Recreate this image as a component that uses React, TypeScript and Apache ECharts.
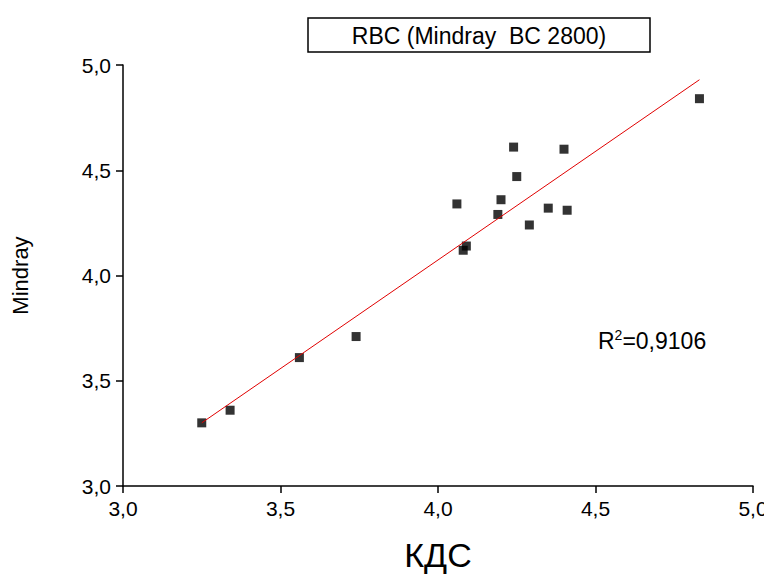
import React, { useRef, useEffect } from 'react';
import * as echarts from 'echarts';

const kdsValues = [3.25, 3.34, 3.56, 3.74, 4.06, 4.08, 4.09, 4.19, 4.2, 4.24, 4.25, 4.29, 4.35, 4.4, 4.41, 4.83];
const mindrayValues = [3.3, 3.36, 3.61, 3.71, 4.34, 4.12, 4.14, 4.29, 4.36, 4.61, 4.47, 4.24, 4.32, 4.6, 4.31, 4.84];
const fitX = [3.25, 4.83];
const fitY = [3.3, 4.93];
const titleText = 'RBC (Mindray  BC 2800)';

const font = 'Liberation Sans, Arial, sans-serif';
const fmt = (v: number) => v.toFixed(1).replace('.', ',');

const App: React.FC = () => {
  const chartRef = useRef<HTMLDivElement>(null);

  useEffect(() => {
    if (!chartRef.current) return;
    const chart = echarts.init(chartRef.current, undefined, { renderer: 'svg' });
    const axisCommon = {
      type: 'value' as const,
      min: 3,
      max: 5,
      interval: 0.5,
      splitLine: { show: false },
      axisLine: { show: true, onZero: false, lineStyle: { color: '#000', width: 1.5 } },
      axisTick: { show: true, inside: false, length: 7, lineStyle: { color: '#000', width: 1.5 } },
      axisLabel: { color: '#000', fontSize: 21, fontFamily: font, formatter: fmt, margin: 12 },
      nameLocation: 'middle' as const,
    };
    chart.setOption({
      animation: false,
      backgroundColor: '#fff',
      grid: { left: 115, right: 19, top: 57, bottom: 91, outerBoundsMode: 'none', containLabel: false },
      xAxis: {
        ...axisCommon,
        name: 'КДС',
        nameGap: 52,
        nameTextStyle: { color: '#000', fontSize: 34, fontFamily: font },
      },
      yAxis: {
        ...axisCommon,
        name: 'Mindray',
        nameGap: 92,
        nameTextStyle: { color: '#000', fontSize: 22, fontFamily: font },
      },
      graphic: [
        {
          type: 'rect',
          shape: { x: 300, y: 10, width: 342, height: 34 },
          style: { fill: '#fff', stroke: '#000', lineWidth: 1.5 },
        },
        {
          type: 'text',
          x: 471,
          y: 28,
          style: { text: titleText, fontSize: 23, fontFamily: font, fill: '#000', align: 'center', verticalAlign: 'middle' },
        },
        {
          type: 'text',
          x: 590,
          y: 333,
          style: {
            text: '{a|R}{s|2}{a|=0,9106}',
            verticalAlign: 'middle',
            rich: {
              a: { fontSize: 23, fontFamily: font, fill: '#000' },
              s: { fontSize: 14, fontFamily: font, fill: '#000', verticalAlign: 'top', padding: [0, 0, 12, 0] },
            },
          },
        },
      ],
      series: [
        {
          type: 'line',
          data: fitX.map((x, i) => [x, fitY[i]]),
          symbol: 'none',
          lineStyle: { color: '#e00000', width: 1 },
        },
        {
          type: 'scatter',
          data: kdsValues.map((x, i) => [x, mindrayValues[i]]),
          symbol: 'rect',
          symbolSize: 9,
          itemStyle: { color: '#000' },
        },
      ],
    });
    return () => chart.dispose();
  }, []);

  return <div ref={chartRef} style={{ width: 764, height: 569 }} />;
};

export default App;
